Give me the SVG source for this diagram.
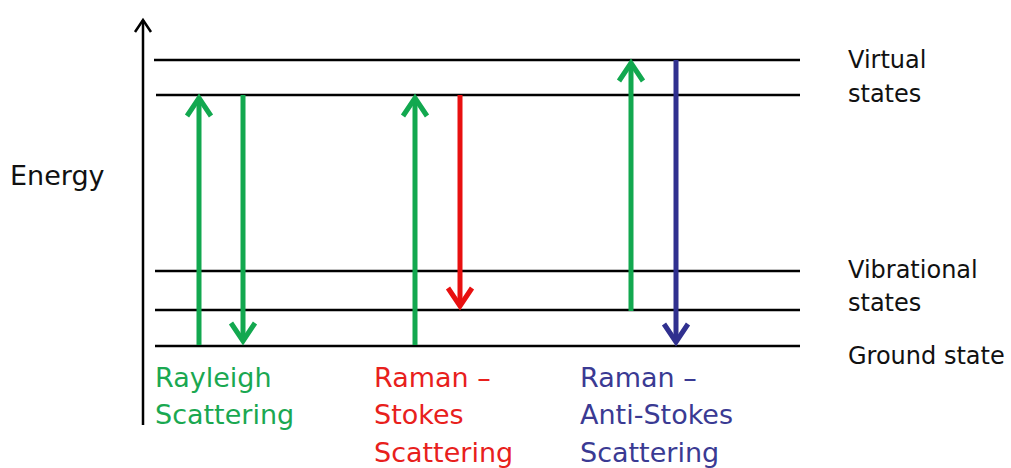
<svg xmlns="http://www.w3.org/2000/svg" width="1011" height="468" viewBox="0 0 1011 468">
<style>
.lvl{stroke:#000;stroke-width:2.5;fill:none}
.arr{fill:none;stroke-width:5;stroke-linecap:butt;stroke-linejoin:miter}
.g{stroke:#12a84f}.r{stroke:#e81010}.b{stroke:#30308f}
text{font-family:"DejaVu Sans","Liberation Sans",sans-serif;font-size:27px}
.lab{font-size:24px;fill:#111}
.tg{fill:#1aa851}.tr{fill:#e8201c}.tb{fill:#3a3a93}
</style>
<rect width="1011" height="468" fill="#fff"/>
<g id="axis">
<line x1="143" y1="20" x2="143" y2="425" stroke="#000" stroke-width="2.5"/>
<polyline points="135,32 143,20 151,32" fill="none" stroke="#000" stroke-width="2.5"/>
<text x="10" y="185" fill="#111">Energy</text>
</g>
<g id="levels">
<line class="lvl" x1="154" y1="60" x2="800" y2="60"/>
<line class="lvl" x1="156" y1="95" x2="800" y2="95"/>
<line class="lvl" x1="155" y1="271" x2="800" y2="271"/>
<line class="lvl" x1="155" y1="310" x2="800" y2="310"/>
<line class="lvl" x1="155" y1="346" x2="800" y2="346"/>
</g>
<g id="connectors">
<line class="arr g" x1="199" y1="345" x2="199" y2="98"/>
<polyline class="arr g" points="187,116 199,98 211,116"/>
<line class="arr g" x1="243" y1="95" x2="243" y2="341"/>
<polyline class="arr g" points="231,323 243,341 255,323"/>
<line class="arr g" x1="415" y1="345" x2="415" y2="98"/>
<polyline class="arr g" points="403,116 415,98 427,116"/>
<line class="arr r" x1="460" y1="95" x2="460" y2="306"/>
<polyline class="arr r" points="448,288 460,306 472,288"/>
<line class="arr g" x1="631" y1="311" x2="631" y2="63"/>
<polyline class="arr g" points="619,81 631,63 643,81"/>
<line class="arr b" x1="676" y1="60" x2="676" y2="342"/>
<polyline class="arr b" points="664,324 676,342 688,324"/>
</g>
<g id="state-labels" class="lab">
<text class="lab" x="848" y="68">Virtual</text>
<text class="lab" x="848" y="102">states</text>
<text class="lab" x="848" y="278">Vibrational</text>
<text class="lab" x="848" y="311">states</text>
<text class="lab" x="848" y="364">Ground state</text>
</g>
<g id="rayleigh">
<text class="tg" x="155" y="387">Rayleigh</text>
<text class="tg" x="155" y="424">Scattering</text>
</g>
<g id="stokes">
<text class="tr" x="374" y="387">Raman –</text>
<text class="tr" x="374" y="424">Stokes</text>
<text class="tr" x="374" y="462">Scattering</text>
</g>
<g id="anti-stokes">
<text class="tb" x="580" y="387">Raman –</text>
<text class="tb" x="580" y="424">Anti-Stokes</text>
<text class="tb" x="580" y="462">Scattering</text>
</g>
</svg>
